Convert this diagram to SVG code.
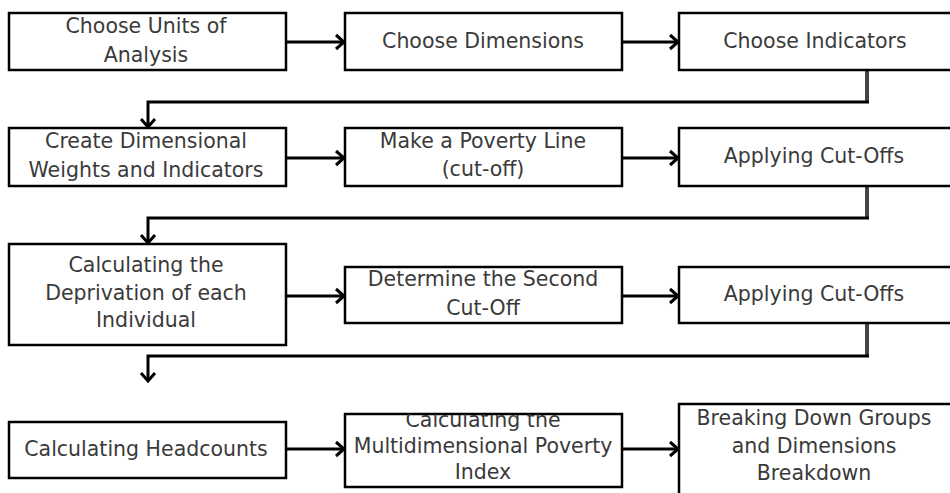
<svg xmlns="http://www.w3.org/2000/svg" width="950" height="493" viewBox="0 0 950 493">
<style>
.box{fill:#fff;stroke:#000;stroke-width:2.5}
.t{font-family:"DejaVu Sans","Liberation Sans",sans-serif;font-size:20.5px;fill:#3a3a3a;text-anchor:middle}
.c{fill:none;stroke:#000;stroke-width:3}
.v{fill:none;stroke:#444;stroke-width:4}
</style>
<defs>
<marker id="ah" markerUnits="userSpaceOnUse" markerWidth="14" markerHeight="18" refX="9" refY="8" orient="auto" overflow="visible">
<path d="M1,1 L9,8 L1,15" fill="none" stroke="#000" stroke-width="3"/>
</marker>
<clipPath id="clipB11"><rect x="345" y="414" width="277" height="73"/></clipPath>
<clipPath id="clipB12"><rect x="679" y="404" width="280" height="100"/></clipPath>
</defs>
<rect width="950" height="493" fill="#fff"/>

<g id="connectors">
<line class="c" x1="286" y1="42" x2="344" y2="42" marker-end="url(#ah)"/>
<line class="c" x1="622" y1="42" x2="678" y2="42" marker-end="url(#ah)"/>
<line class="v" x1="867" y1="70" x2="867" y2="102"/>
<polyline class="c" points="869,102 148,102 148,127" marker-end="url(#ah)"/>

<line class="c" x1="286" y1="158" x2="344" y2="158" marker-end="url(#ah)"/>
<line class="c" x1="622" y1="158" x2="678" y2="158" marker-end="url(#ah)"/>
<line class="v" x1="867" y1="186" x2="867" y2="218"/>
<polyline class="c" points="869,218 148,218 148,243" marker-end="url(#ah)"/>

<line class="c" x1="286" y1="296" x2="344" y2="296" marker-end="url(#ah)"/>
<line class="c" x1="622" y1="296" x2="678" y2="296" marker-end="url(#ah)"/>
<line class="v" x1="867" y1="323" x2="867" y2="356"/>
<polyline class="c" points="869,356 148,356 148,381" marker-end="url(#ah)"/>

<line class="c" x1="286" y1="449" x2="344" y2="449" marker-end="url(#ah)"/>
<line class="c" x1="622" y1="449" x2="678" y2="449" marker-end="url(#ah)"/>
</g>

<g id="n1"><rect class="box" x="9" y="13" width="277" height="57"/>
<text class="t" x="146" y="33">Choose Units of</text><text class="t" x="146" y="62">Analysis</text></g>
<g id="n2"><rect class="box" x="345" y="13" width="277" height="57"/>
<text class="t" x="483" y="48">Choose Dimensions</text></g>
<g id="n3"><rect class="box" x="679" y="13" width="280" height="57"/>
<text class="t" x="815" y="48">Choose Indicators</text></g>

<g id="n4"><rect class="box" x="9" y="128" width="277" height="58"/>
<text class="t" x="146" y="148">Create Dimensional</text><text class="t" x="146" y="177">Weights and Indicators</text></g>
<g id="n5"><rect class="box" x="345" y="128" width="277" height="58"/>
<text class="t" x="483" y="148">Make a Poverty Line</text><text class="t" x="483" y="176">(cut-off)</text></g>
<g id="n6"><rect class="box" x="679" y="128" width="280" height="58"/>
<text class="t" x="814" y="163">Applying Cut-Offs</text></g>

<g id="n7"><rect class="box" x="9" y="244" width="277" height="101"/>
<text class="t" x="146" y="272">Calculating the</text><text class="t" x="146" y="300">Deprivation of each</text><text class="t" x="146" y="327">Individual</text></g>
<g id="n8"><rect class="box" x="345" y="267" width="277" height="56"/>
<text class="t" x="483" y="286">Determine the Second</text><text class="t" x="483" y="315">Cut-Off</text></g>
<g id="n9"><rect class="box" x="679" y="267" width="280" height="56"/>
<text class="t" x="814" y="301">Applying Cut-Offs</text></g>

<g id="n10"><rect class="box" x="9" y="422" width="277" height="56"/>
<text class="t" x="146" y="456">Calculating Headcounts</text></g>
<g id="n11"><rect class="box" x="345" y="414" width="277" height="73"/>
<g clip-path="url(#clipB11)"><text class="t" x="483" y="427">Calculating the</text><text class="t" x="483" y="453">Multidimensional Poverty</text><text class="t" x="483" y="479">Index</text></g></g>
<g id="n12"><rect class="box" x="679" y="404" width="280" height="100"/>
<g clip-path="url(#clipB12)"><text class="t" x="814" y="425">Breaking Down Groups</text><text class="t" x="814" y="453">and Dimensions</text><text class="t" x="814" y="480">Breakdown</text></g></g>
</svg>
